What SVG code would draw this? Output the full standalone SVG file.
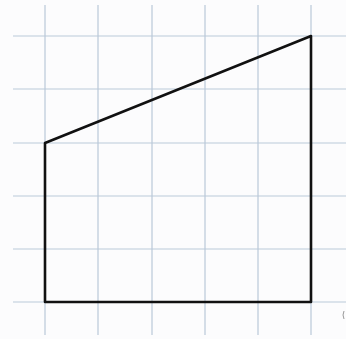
<svg xmlns="http://www.w3.org/2000/svg" width="346" height="339" viewBox="0 0 346 339">
<style>
.g{stroke:#b9c9d9;stroke-width:1.2;fill:none}
.s{stroke:#111;stroke-width:2.6;fill:none;stroke-linejoin:round;stroke-linecap:round}
</style>
<rect width="346" height="339" fill="#fcfcfd"/>
<g id="grid">
<path class="g" d="M45 5V335M98 5V335M152 5V335M205 5V335M258 5V335M311 5V335"/>
<path class="g" d="M13 36H346M13 89H346M13 143H346M13 196H346M13 249H346M13 302H346"/>
</g>
<g id="shape">
<polygon class="s" points="45,143 311,36 311,302 45,302"/>
</g>
<path d="M344 311 Q342 315 344 319" stroke="#999" stroke-width="1" fill="none"/>
</svg>
